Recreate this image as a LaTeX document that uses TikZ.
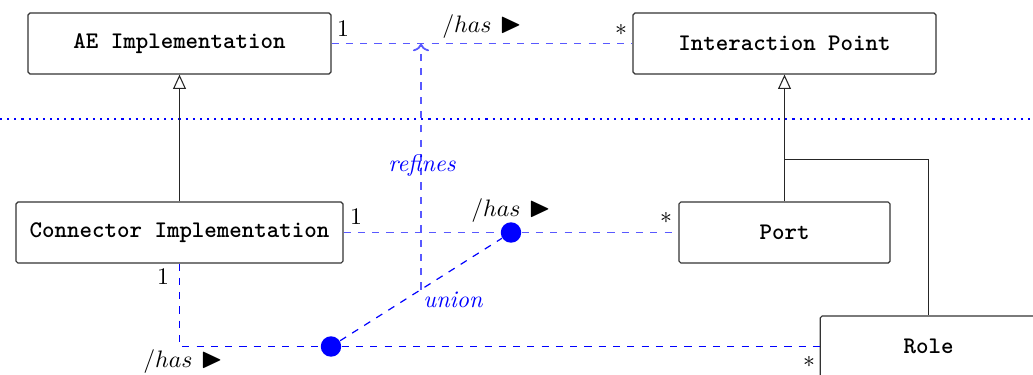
\documentclass[tikz,border=0pt]{standalone}
\usepackage{fontspec}
\usepackage{amssymb}
\usetikzlibrary{arrows.meta,calc}
\tikzset{
  cls/.style={draw=black!80, line width=0.5pt, rounded corners=0.8pt, minimum height=25.63pt, font=\ttfamily\bfseries, inner sep=0pt},
  assocl/.style={draw=blue!65, dashed, line width=0.75pt},
  assocd/.style={draw=blue, dashed, line width=0.65pt},
  dotnode/.style={circle, fill=blue, inner sep=0pt, minimum size=8.6pt},
  inh/.style={draw=black!85, line width=0.45pt, -{Triangle[open,length=6pt,width=5.4pt]}},
  mult/.style={inner sep=0pt},
  bluelbl/.style={text=blue, inner sep=0pt, font=\itshape},
}
\newcommand{\hasarrow}{$/has$ {\large$\blacktriangleright$}}
\begin{document}
\begin{tikzpicture}[x=0.4202pt,y=-0.4202pt]
\useasboundingbox (0,0) rectangle (1033,374);
\clip (0,0) rectangle (1033,374);
% separator
\draw[blue, line width=0.9pt, dash pattern=on 0.9pt off 2.1pt] (0,119) -- (1033,119);
% classes
\node[cls, minimum width=127.3pt] (ae) at (179.5,43.5) {AE Implementation};
\node[cls, minimum width=127.3pt] (ip) at (784.5,43.5) {Interaction Point};
\node[cls, minimum width=137.4pt] (ci) at (179.5,232.5) {Connector Implementation};
\node[cls, minimum width=88.7pt] (port) at (784.5,232.5) {Port};
\node[cls, minimum width=91pt] (role) at (928.5,346.5) {Role};
% inheritance
\draw[inh] (ci.north) -- (ae.south);
\draw[inh] (port.north) -- (ip.south);
\coordinate (br) at (784.5,159.5);
\draw[black!85, line width=0.45pt] (br) -- (br -| role.north) -- (role.north);
% association dots
\node[dotnode] (d1) at (511,232.5) {};
\node[dotnode] (d2) at (331,346.5) {};
\coordinate (corner) at (ci.south |- d2);
% associations
\draw[assocl] (ae.east) -- (ip.west);
\draw[assocl] (ci.east) -- (d1) -- (port.west);
\draw[assocd] (ci.south) -- (corner) -- (d2) -- (role.west);
\draw[assocd, line width=0.5pt] (d2) -- (d1);
\coordinate (mid) at ($(d2)!0.5!(d1)$);
\draw[assocl, ->] (mid) -- (mid |- ae.east);
% labels
\node[mult] (m1) at (343,29) {1};
\node[mult] (h1) at (482,27) {\hasarrow};
\node[mult] (s1) at (621,30) {$*$};
\node[mult] (m2) at (356,217) {1};
\node[mult] (h2) at (511,211) {\hasarrow};
\node[mult] (s2) at (666,218) {$*$};
\node[mult] (m3) at (163,277) {1};
\node[mult] (h3) at (183,362) {\hasarrow};
\node[mult] (s3) at (809,362) {$*$};
\node[bluelbl] (ref) at (422,166) {refines};
\node[bluelbl, anchor=west] (un) at (423,300) {union};
\end{tikzpicture}
\end{document}
